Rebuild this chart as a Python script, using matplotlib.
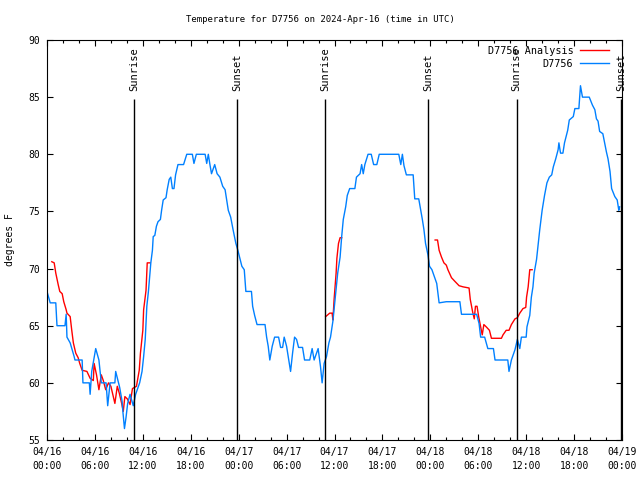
import numpy as np
import pandas as pd
import matplotlib
matplotlib.use("Agg")
import matplotlib.pyplot as plt
import matplotlib.dates as mdates

start = pd.Timestamp("2024-04-16 00:00")

# observed station temps (hours after 04/16 00:00 UTC, degrees F)
obs_hours = [0.0, 0.4, 1.1, 1.25, 2.25, 2.4, 2.5, 2.9, 3.4, 3.5, 4.4, 4.5, 5.3, 5.4, 5.6, 6.1,
             6.5, 6.8, 7.4, 7.6, 7.9, 8.5, 8.6, 9.1, 9.4, 9.5, 9.7, 9.9, 10.1, 10.4, 10.8, 11.1,
             11.6, 11.9, 12.1, 12.3, 12.5, 12.7, 13.0, 13.2, 13.3, 13.5, 13.7, 13.9, 14.2, 14.35,
             14.55, 14.9, 15.05, 15.3, 15.5, 15.7, 15.9, 16.1, 16.4, 17.1, 17.5, 18.2, 18.4, 18.7,
             19.8, 20.0, 20.2, 20.4, 20.6, 21.0, 21.3, 21.65, 22.0, 22.3, 22.5, 22.7, 23.0, 23.3,
             23.65, 23.9, 24.4, 24.7, 24.9, 25.6, 25.75, 26.0, 26.3, 27.3, 27.5, 27.7, 27.9, 28.2,
             28.5, 29.0, 29.25, 29.5, 29.7, 30.0, 30.3, 30.5, 30.75, 31.0, 31.25, 31.5, 32.0, 32.25,
             32.9, 33.2, 33.45, 33.95, 34.25, 34.45, 34.7, 35.0, 35.3, 35.5, 35.8, 36.1, 36.4, 36.7,
             36.9, 37.1, 37.4, 37.6, 37.9, 38.55, 38.75, 39.2, 39.4, 39.6, 39.8, 40.2, 40.6, 40.9,
             41.3, 41.6, 44.05, 44.3, 44.5, 44.7, 45.0, 45.85, 46.05, 46.55, 46.8, 47.0, 47.2, 47.4,
             47.7, 47.9, 48.2, 48.5, 48.8, 49.1, 50.0, 51.7, 51.9, 53.8, 54.1, 54.3, 54.8, 55.2,
             55.9, 56.1, 57.7, 57.85, 58.15, 58.6, 58.9, 59.2, 59.4, 60.0, 60.1, 60.45, 60.65, 60.85,
             61.0, 61.3, 61.7, 62.0, 62.3, 62.6, 62.9, 63.2, 63.4, 63.7, 64.0, 64.1, 64.3, 64.6,
             64.8, 65.2, 65.4, 65.9, 66.1, 66.6, 66.8, 67.05, 67.9, 68.3, 68.6, 68.8, 69.0, 69.2,
             69.6, 69.8, 70.05, 70.25, 70.5, 70.7, 71.1, 71.4, 71.6, 71.7]
obs_temp = [68, 67, 67, 65, 65, 66, 64, 63.5, 62.3, 62, 62, 60, 60, 59, 61, 63,
            62, 60, 60, 58, 60, 60, 61, 59.6, 58.4, 57.5, 56, 57, 58.2, 59, 58, 59,
            60, 61, 62.3, 63.8, 66.7, 68, 70.5, 71.6, 72.8, 72.9, 73.7, 74.1, 74.3, 75.1,
            76, 76.2, 76.9, 77.8, 78, 77, 77, 78.2, 79.1, 79.1, 80, 80, 79.2, 80,
            80, 79.2, 80, 79.1, 78.3, 79.1, 78.3, 78, 77.2, 76.9, 76, 75.1, 74.5, 73.4,
            72.2, 71.6, 70.2, 69.9, 68, 68, 66.7, 65.9, 65.1, 65.1, 64, 63.2, 62, 63.2,
            64, 64, 63.1, 63.1, 64, 63.2, 61.9, 61, 62.6, 64, 63.8, 63.1, 63.1, 62,
            62, 63, 62, 63, 61.4, 60, 61.7, 62.3, 63.5, 64, 65.4, 67.5, 69.6, 71,
            72.8, 74.3, 75.4, 76.4, 77, 77, 78, 78.3, 79.1, 78.3, 79.1, 80, 80, 79.1,
            79.1, 80, 80, 79.1, 80, 79, 78.2, 78.2, 76.1, 76.1, 75.1, 74.3, 73.4, 72.2,
            71.2, 70.2, 69.9, 69.3, 68.7, 67, 67.1, 67.1, 66, 66, 65.2, 64, 64, 63,
            63, 62, 62, 61, 62, 62.9, 63.8, 63, 64, 64, 64.9, 65.9, 67.5, 68.4,
            69.6, 70.8, 73.4, 75.1, 76.4, 77.5, 78, 78.2, 78.9, 79.6, 80.4, 81, 80.1, 80.1,
            81, 82.1, 83, 83.3, 84, 84, 86, 85, 85, 84.3, 83.9, 83.1, 82.9, 82,
            81.8, 81.1, 80.2, 79.6, 78.5, 77, 76.3, 76, 75.1, 75.4]

# analysis series, three separate pieces
ana1_hours = [0.6, 0.9, 1.1, 1.4, 1.6, 1.9, 2.1, 2.4, 2.5, 2.9, 3.1, 3.3, 3.6, 3.9, 4.1, 4.4,
              5.0, 5.4, 5.8, 5.9, 6.2, 6.5, 6.8, 7.05, 7.35, 7.7, 8.0, 8.3, 8.5, 8.8, 9.05,
              9.35, 9.55, 9.75, 10.05, 10.4, 10.7, 11.2, 11.55, 11.7, 12.0, 12.1, 12.4, 12.55, 12.9]
ana1_temp = [70.6, 70.5, 69.6, 68.6, 68, 67.8, 67.1, 66.4, 66.1, 65.8, 64.6, 63.5, 62.6, 62.2, 61.7, 61.1,
             61, 60.4, 60.2, 61.7, 60.7, 59.4, 60.7, 60.2, 59.4, 60, 59.7, 58.8, 58.2, 59.7, 59.1,
             58.2, 57.5, 58.8, 58.6, 58.1, 59.5, 59.7, 61.1, 62.6, 64.6, 66.4, 68.1, 70.5, 70.5]
ana2_hours = [34.9, 35.4, 35.7, 35.8, 35.95, 36.2, 36.3, 36.5, 36.7, 36.9]
ana2_temp = [65.8, 66.1, 66.1, 65.5, 67.3, 69.6, 70.9, 72.2, 72.7, 72.7]
ana3_hours = [48.6, 48.9, 49.1, 49.4, 49.7, 50.0, 50.2, 50.65, 51.05, 51.6, 52.1, 52.85, 53.0,
              53.3, 53.5, 53.65, 53.85, 54.05, 54.3, 54.5, 54.7, 55.0, 55.4, 55.65, 56.9, 57.1,
              57.5, 57.85, 58.15, 58.6, 58.9, 59.2, 59.6, 59.95, 60.05, 60.25, 60.45, 60.75]
ana3_temp = [72.5, 72.5, 71.6, 71, 70.5, 70.3, 69.9, 69.2, 68.9, 68.5, 68.4, 68.3, 67.3,
             66.2, 65.6, 66.7, 66.7, 65.8, 64.9, 64.2, 65.1, 64.9, 64.6, 63.9, 63.9, 64.2,
             64.6, 64.6, 65.1, 65.6, 65.7, 66.1, 66.5, 66.6, 67.5, 68.4, 69.9, 69.9]

sun_hours = [10.9, 23.8, 34.8, 47.7, 58.8, 71.85]
sun_labels = ["Sunrise", "Sunset", "Sunrise", "Sunset", "Sunrise", "Sunset"]


def to_time(hours):
    return start + pd.to_timedelta(np.array(hours), unit="h")


plt.rcParams["font.family"] = "DejaVu Sans Mono"
plt.rcParams["font.size"] = 7

fig = plt.figure(figsize=(6.4, 4.8), dpi=100)
ax = fig.add_axes([47 / 640, 40 / 480, 575 / 640, 400 / 480])

ax.plot(to_time(ana1_hours), ana1_temp, color="#ff0000", lw=1.0, label="D7756 Analysis")
ax.plot(to_time(ana2_hours), ana2_temp, color="#ff0000", lw=1.0)
ax.plot(to_time(ana3_hours), ana3_temp, color="#ff0000", lw=1.0)
ax.plot(to_time(obs_hours), obs_temp, color="#0080ff", lw=1.0, label="D7756")

for h, lab in zip(sun_hours, sun_labels):
    t = to_time([h])[0]
    ax.vlines(t, 55, 84.8, color="black", lw=1.0)
    ax.text(t, 85.5, lab, rotation=90, ha="center", va="bottom", fontsize=7.5)

ax.set_xlim(start, start + pd.Timedelta(hours=72))
ax.set_ylim(55, 90)
ax.set_yticks(range(55, 91, 5))
ax.xaxis.set_major_locator(mdates.HourLocator(byhour=[0, 6, 12, 18]))
ax.xaxis.set_minor_locator(mdates.HourLocator(byhour=range(0, 24, 2)))
ax.xaxis.set_major_formatter(mdates.DateFormatter("%m/%d\n%H:%M"))
ax.tick_params(which="both", direction="in", top=True, right=True, width=0.8, labelsize=7)
ax.tick_params(which="major", length=4.5, pad=5)
ax.tick_params(which="minor", length=2.5)
plt.setp(ax.get_xticklabels(), linespacing=1.45)
for s in ax.spines.values():
    s.set_linewidth(0.8)

ax.legend(loc="upper right", bbox_to_anchor=(1 - 7 / 575, 1.0), frameon=False,
          markerfirst=False, fontsize=7.3, handlelength=2.9, handletextpad=0.65,
          borderaxespad=0.2, borderpad=0.35, labelspacing=0.3)

fig.text(0.5, 1 - 20 / 480, "Temperature for D7756 on 2024-Apr-16 (time in UTC)",
         ha="center", va="center", fontsize=6.5)
fig.text(10 / 640, 0.5, "degrees F", rotation=90, ha="center", va="center", fontsize=7)

fig.savefig("out.png", dpi=100)
